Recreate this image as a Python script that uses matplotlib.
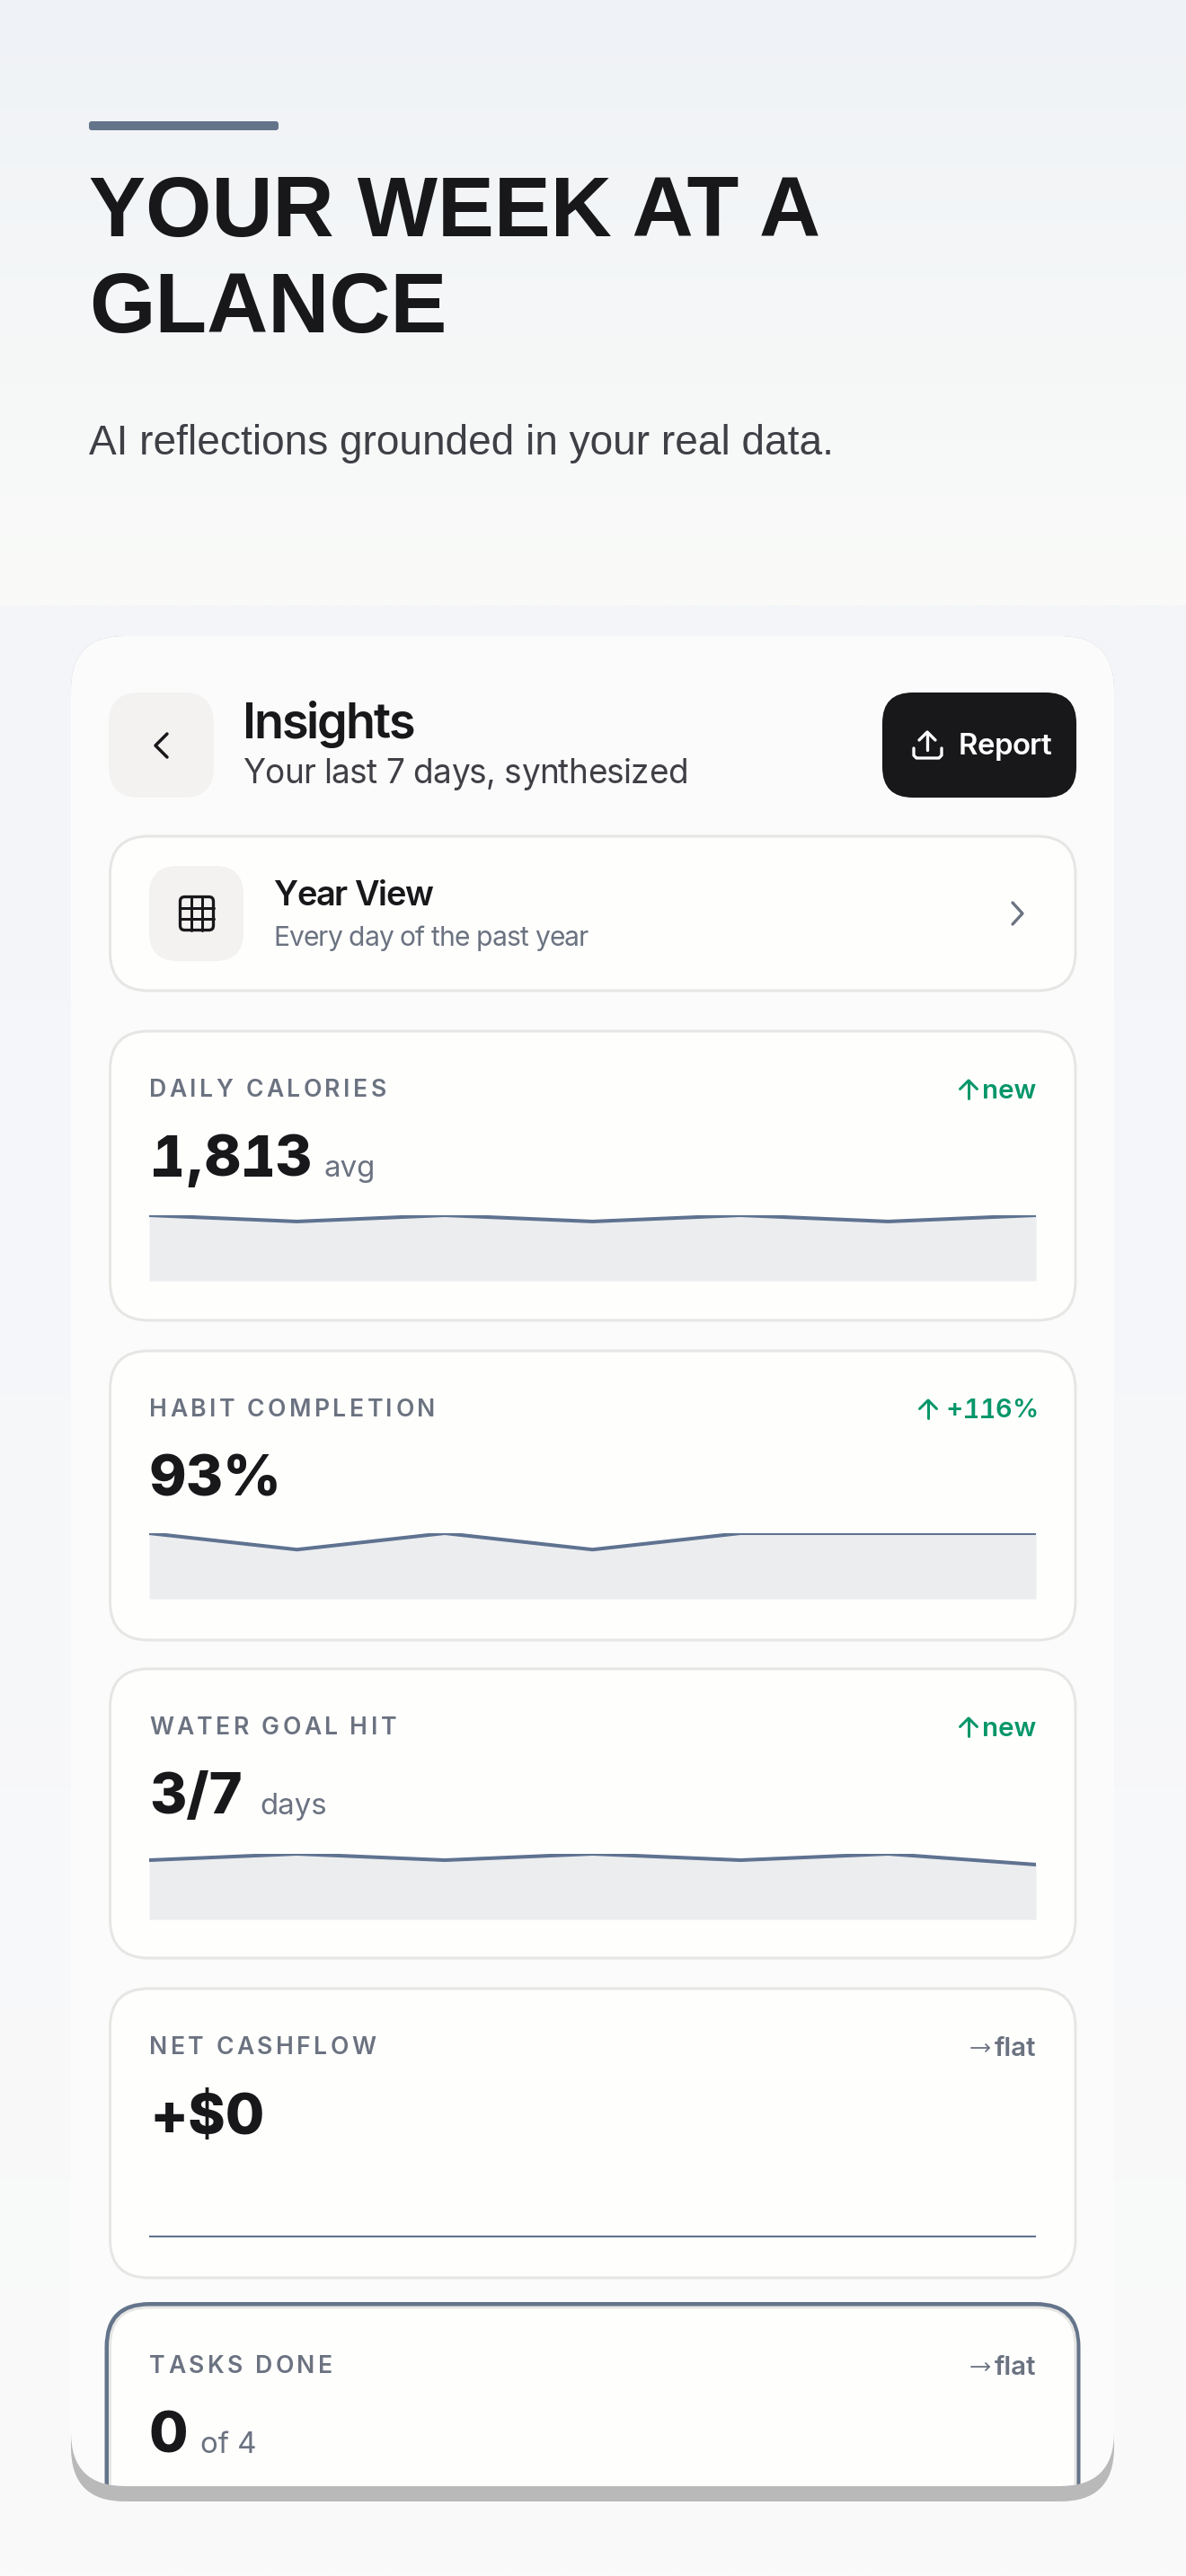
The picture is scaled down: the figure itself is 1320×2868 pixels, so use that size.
import numpy as np
import matplotlib
matplotlib.use("Agg")
import matplotlib.pyplot as plt
from matplotlib.colors import to_rgb
from matplotlib.font_manager import FontProperties
from matplotlib.patches import FancyBboxPatch, Rectangle
from matplotlib.textpath import text_to_path

W, H = 1320, 2868

# sparkline values, seven days each
days = [0, 1, 2, 3, 4, 5, 6]
calories = [1890, 1710, 1890, 1710, 1890, 1710, 1890]
habits = [100, 75, 100, 75, 100, 100, 100]
water = [2.26, 2.5, 2.26, 2.5, 2.26, 2.5, 2.09]
cashflow = [0, 0, 0, 0, 0, 0, 0]

card_labels = ["DAILY CALORIES", "HABIT COMPLETION", "WATER GOAL HIT", "NET CASHFLOW", "TASKS DONE"]
card_values = ["1,813", "93%", "3/7", "+$0", "0"]
card_units = ["avg", "", "days", "", "of 4"]
card_deltas = ["new", "+116%", "new", "flat", "flat"]
card_dirs = ["up", "up", "up", "flat", "flat"]

INK = "#18181b"
GREY = "#6b7280"
SLATE = "#64748b"
GREEN = "#059669"
BORDER = "#e6e6e4"
CARD = "#fefefd"
PANEL = "#fbfbfb"
TILE = "#f3f2f1"


def gradient(ax, top, bottom, y0, y1):
    a, b = np.array(to_rgb(top)), np.array(to_rgb(bottom))
    t = np.linspace(0, 1, 256)[:, None]
    img = (a + (b - a) * t)[:, None, :]
    ax.imshow(img, extent=(0, W, y1, y0), aspect="auto", zorder=0, interpolation="bilinear")


def rbox(ax, x0, y0, x1, y1, r, fc, ec="none", lw=0, z=2):
    p = FancyBboxPatch((x0, y0), x1 - x0, y1 - y0, boxstyle=f"round,pad=0,rounding_size={r}",
                       fc=fc, ec=ec, lw=lw * 0.72, zorder=z)
    ax.add_patch(p)
    return p


def label(ax, x, y, s, px, color=INK, weight="normal", family="Inter", ha="left", z=5):
    return ax.text(x, y, s, fontsize=px * 0.72, color=color, fontweight=weight, family=family,
                   ha=ha, va="baseline", zorder=z)


def spaced(ax, x, y, s, px, gap, color=INK, weight="normal", family="Inter", z=5):
    # matplotlib has no letter spacing so place the characters one by one
    prop = FontProperties(family=family, weight=weight, size=px * 0.72)
    out = []
    for i, ch in enumerate(s):
        w = text_to_path.get_text_width_height_descent(s[:i], prop, False)[0] / 0.72 if i else 0
        out.append(label(ax, x + w + i * gap, y, ch, px, color, weight, family, z=z))
    return out


def tabular(ax, x, y, s, px, color, weight, foot):
    # the reference uses tabular figures, where the 1 has a foot serif
    prop = FontProperties(family="Inter", weight=weight, size=px * 0.72)
    cell = 0.625 * px
    pen = x
    for ch in s:
        if ch.isdigit():
            label(ax, pen + cell / 2, y, ch, px, color, weight, ha="center")
            if ch == "1":
                ax.add_patch(Rectangle((pen + 0.08 * px, y - foot), cell - 0.14 * px, foot,
                                       fc=color, ec="none", zorder=5))
            pen += cell
        else:
            label(ax, pen, y, ch, px, color, weight)
            pen += text_to_path.get_text_width_height_descent(ch, prop, False)[0] / 0.72


def stroke(ax, xs, ys, color, px, z=6):
    ax.plot(xs, ys, color=color, lw=px * 0.72, solid_capstyle="round", solid_joinstyle="round", zorder=z)


def spark(values, top, ylim):
    sub = fig.add_axes([166 / W, 1 - (top + 73) / H, 987 / W, 73 / H], zorder=1)
    sub.patch.set_alpha(0)
    sub.fill_between(days, values, ylim[0], color=SLATE, alpha=0.12, lw=0)
    sub.plot(days, values, color="#5f7290", lw=2.9)
    sub.set_xlim(0, 6)
    sub.set_ylim(*ylim)
    sub.axis("off")
    return sub


def delta_arrow(ax, x_mid, base, direction):
    if direction == "up":
        stroke(ax, [x_mid, x_mid], [base - 20, base], GREEN, 3)
        stroke(ax, [x_mid - 9.5, x_mid, x_mid + 9.5], [base - 10.5, base - 20, base - 10.5], GREEN, 3)
    else:
        stroke(ax, [x_mid - 10, x_mid + 10], [base - 9, base - 9], GREY, 1.8)
        stroke(ax, [x_mid + 6, x_mid + 10, x_mid + 6], [base - 13, base - 9, base - 5], GREY, 1.8)


fig = plt.figure(figsize=(W / 100, H / 100), dpi=100)
ax = fig.add_axes([0, 0, 1, 1], zorder=0)
ax.set_xlim(0, W)
ax.set_ylim(H, 0)
ax.axis("off")

gradient(ax, "#eff2f6", "#fafbf9", 0, 674)
gradient(ax, "#f3f5f9", "#fafafa", 674, H)
ax.set_xlim(0, W)
ax.set_ylim(H, 0)

# hero
rbox(ax, 99, 135, 310, 145, 3, SLATE)
label(ax, 99, 263.5, "YOUR WEEK AT A", 94.4, INK, "bold", "Liberation Sans")
label(ax, 99, 370, "GLANCE", 94.4, INK, "bold", "Liberation Sans")
label(ax, 99, 506, "AI reflections grounded in your real data.", 46, "#3f3f46", family="Liberation Sans")

# phone panel with its hard shadow
rbox(ax, 79, 708, 1240, 2785, 60, "#b9b9b9", z=1)
panel = rbox(ax, 79, 708, 1240, 2768, 60, PANEL, z=1.5)

# header
rbox(ax, 121, 771, 238, 888, 34, TILE)
stroke(ax, [186, 173, 186], [817, 830, 843], INK, 3.5)
spaced(ax, 270, 822, "Insights", 54, -2.2, INK, 600)
spaced(ax, 270, 872, "Your last 7 days, synthesized", 37, -0.6, "#3f3f46")
rbox(ax, 982, 771, 1198, 888, 34, INK)
stroke(ax, [1017, 1017, 1020, 1045, 1048, 1048], [833, 841, 844, 844, 841, 833], "white", 3.3)
stroke(ax, [1032, 1032], [816, 835], "white", 3.3)
stroke(ax, [1023, 1032, 1041], [824, 815, 824], "white", 3.3)
spaced(ax, 1067, 840, "Report", 33, -0.7, "white", 600)

# year view row
rbox(ax, 122.5, 931, 1197, 1103, 43, CARD, BORDER, 3)
rbox(ax, 166, 964, 271, 1070, 32, TILE)
rbox(ax, 200.5, 998.5, 237.5, 1035.5, 5, "none", INK, 3.3, z=6)
for f in [1 / 3, 2 / 3]:
    stroke(ax, [200.5 + 37 * f] * 2, [998.5, 1035.5], INK, 3)
    stroke(ax, [200.5, 237.5], [998.5 + 37 * f] * 2, INK, 3)
spaced(ax, 304, 1008, "Year View", 38, -1.2, INK, 600)
spaced(ax, 304, 1053, "Every day of the past year", 30, -0.85, GREY)
stroke(ax, [1127, 1138, 1127], [1005, 1017, 1029], GREY, 3.3)

# metric cards
card_tops = [1148, 1504, 1858, 2214, 2569]
arrow_x = [1078, 1033, 1078, 1091, 1091]
unit_x = [360, 0, 289, 0, 223]

for i, top in enumerate(card_tops):
    clip = i == 4
    items = []
    if clip:
        items.append(rbox(ax, 116.5, top - 6, 1202.5, top + 330, 50, SLATE, z=2))
    items.append(rbox(ax, 122.5, top, 1197, top + 322, 43, CARD, BORDER, 3, z=2.5))
    items.extend(spaced(ax, 166, top + 73, card_labels[i], 26.5, 3.5, GREY, 600))
    if "1" in card_values[i]:
        tabular(ax, 166, top + 161.5, card_values[i], 63, INK, 800, 9)
    else:
        items.append(label(ax, 166, top + 161.5, card_values[i], 63, INK, 800))
    if card_units[i]:
        items.append(label(ax, unit_x[i], top + 162, card_units[i], 33, GREY))
    col = GREEN if card_dirs[i] == "up" else GREY
    if "1" in card_deltas[i]:
        tabular(ax, 1052, top + 74.5, card_deltas[i], 29, col, 600, 2.6)
    else:
        items.append(label(ax, 1153, top + 75, card_deltas[i], 29.5, col, 600, ha="right"))
    delta_arrow(ax, arrow_x[i], top + 75, card_dirs[i])
    for it in items:
        if clip:
            it.set_clip_path(panel)

spark(calories, 1353, (0, 1890))
spark(habits, 1707, (0, 100))
spark(water, 2064, (0, 2.5))
spark(cashflow, 2417.7, (0, 73))

fig.savefig("out.png", dpi=100)
